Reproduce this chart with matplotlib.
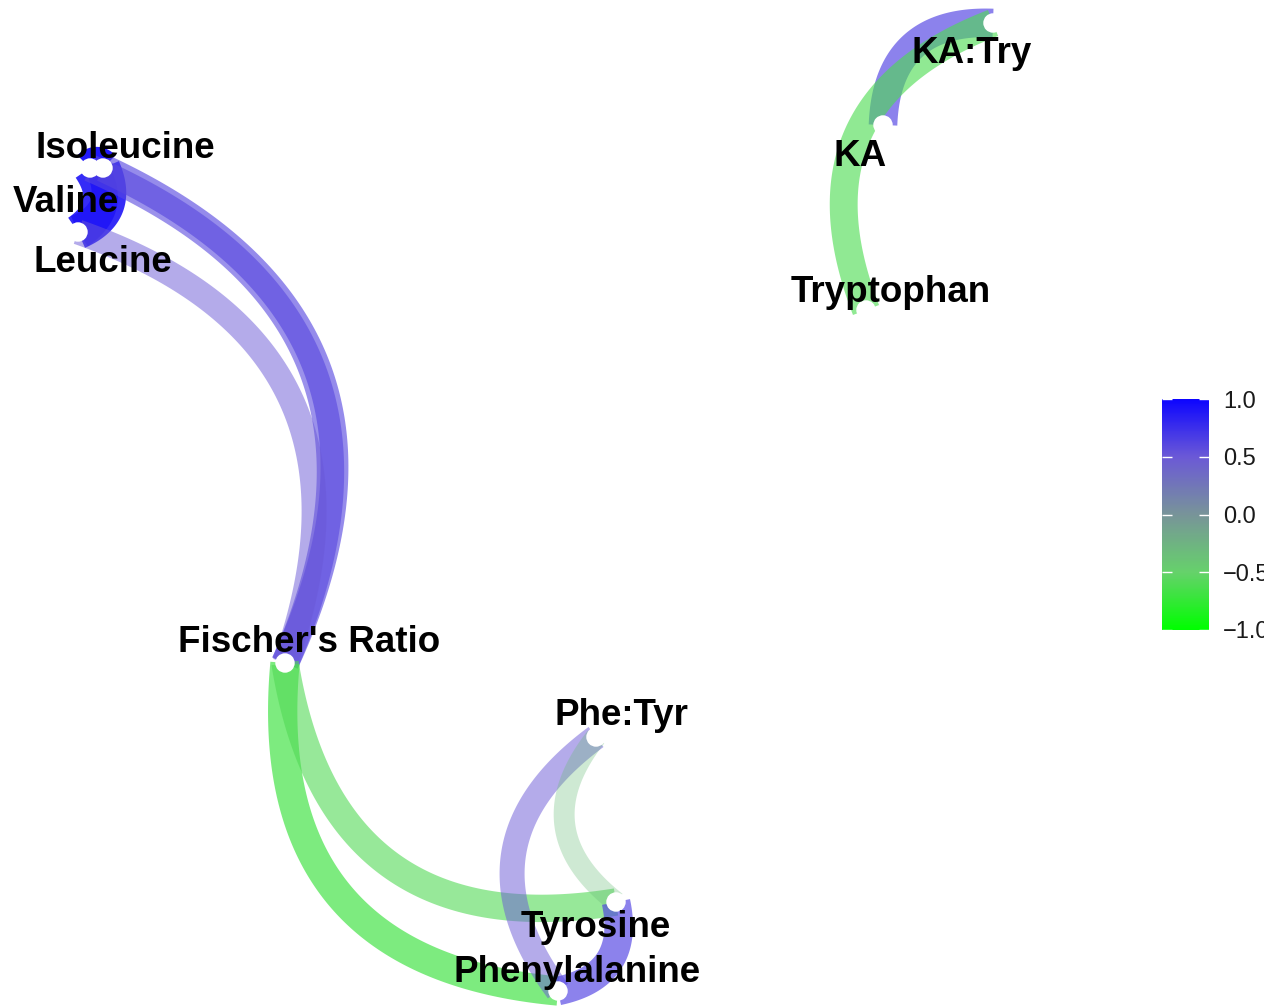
import numpy as np
import matplotlib.pyplot as plt
from matplotlib.colors import LinearSegmentedColormap, Normalize
from matplotlib.cm import ScalarMappable

plt.rcParams['font.family'] = ['Liberation Sans', 'DejaVu Sans']

# node layout (multidimensional scaling coordinates)
nodes = ['Isoleucine', 'Valine', 'Leucine', "Fischer's Ratio", 'Phe:Tyr',
         'Tyrosine', 'Phenylalanine', 'KA', 'KA:Try', 'Tryptophan']
node_x = [1.03, 0.90, 0.78, 2.85, 5.96, 6.16, 5.58, 8.83, 9.93, 8.66]
node_y = [8.40, 8.40, 7.76, 3.45, 2.71, 1.06, 0.17, 8.83, 9.85, 6.98]

# where the repelled labels ended up (centre x, baseline y)
label_x = [1.255, 0.66, 1.025, 3.09, 6.215, 5.955, 5.775, 8.60, 9.72, 8.91]
label_y = [8.50, 7.96, 7.36, 3.56, 2.83, 0.71, 0.26, 8.42, 9.45, 7.06]

# correlations shown as edges
edge_from = ['Valine', 'Isoleucine', 'Valine', 'Isoleucine', 'Valine', 'Leucine',
             'Phenylalanine', 'Tyrosine', 'Phenylalanine', 'Tyrosine',
             'Tyrosine', 'KA', 'Tryptophan']
edge_to = ['Isoleucine', 'Leucine', 'Leucine', "Fischer's Ratio", "Fischer's Ratio",
           "Fischer's Ratio", "Fischer's Ratio", "Fischer's Ratio", 'Phe:Tyr',
           'Phe:Tyr', 'Phenylalanine', 'KA:Try', 'KA:Try']
edge_r = [0.95, 0.90, 0.90, 0.62, 0.60, 0.50, -0.68, -0.60, 0.50, -0.33,
          0.65, 0.65, -0.62]

cmap = LinearSegmentedColormap.from_list('gb', [
    (0.00, (0.00, 1.00, 0.00)),
    (0.25, (0.40, 0.82, 0.42)),
    (0.50, (0.47, 0.58, 0.60)),
    (0.75, (0.42, 0.35, 0.84)),
    (1.00, (0.05, 0.02, 1.00)),
], N=256)
norm = Normalize(-1, 1)

fig = plt.figure(figsize=(12.64, 10.08), dpi=100)
ax = fig.add_axes([0, 0, 1, 1])
ax.set_xlim(0, 12.64)
ax.set_ylim(0, 10.08)
ax.axis('off')

pos = {n: np.array([x, y]) for n, x, y in zip(nodes, node_x, node_y)}
t = np.linspace(0, 1, 120)[:, None]
for a, b, r in zip(edge_from, edge_to, edge_r):
    p0, p2 = pos[a], pos[b]
    d = p2 - p0
    p1 = (p0 + p2) / 2 + 0.5 * np.array([-d[1], d[0]])
    pts = (1 - t) ** 2 * p0 + 2 * (1 - t) * t * p1 + t ** 2 * p2
    ax.plot(pts[:, 0], pts[:, 1], color=cmap(norm(r)), alpha=abs(r),
            lw=(13 + 24 * abs(r)) * 0.72, solid_capstyle='butt', zorder=2)

ax.scatter(node_x, node_y, s=14 ** 2, color='white', edgecolor='none', zorder=3)

for name, lx, ly in zip(nodes, label_x, label_y):
    ax.text(lx, ly, name, ha='center', va='baseline', fontsize=26.5,
            fontweight='bold', zorder=4)

cax = fig.add_axes([1162 / 1264, 378 / 1008, 47 / 1264, 231 / 1008])
cb = fig.colorbar(ScalarMappable(norm=norm, cmap=cmap), cax=cax)
cb.outline.set_visible(False)
cb.set_ticks([-1, -0.5, 0, 0.5, 1])
cb.set_ticklabels(['\u22121.0', '\u22120.5', '0.0', '0.5', '1.0'])
cax.tick_params(axis='y', left=True, right=True, labelleft=False, labelright=True,
                direction='in', color='white', length=7, width=1, pad=10,
                labelsize=17, labelcolor='#1a1a1a')

fig.savefig('out.png', dpi=100)
